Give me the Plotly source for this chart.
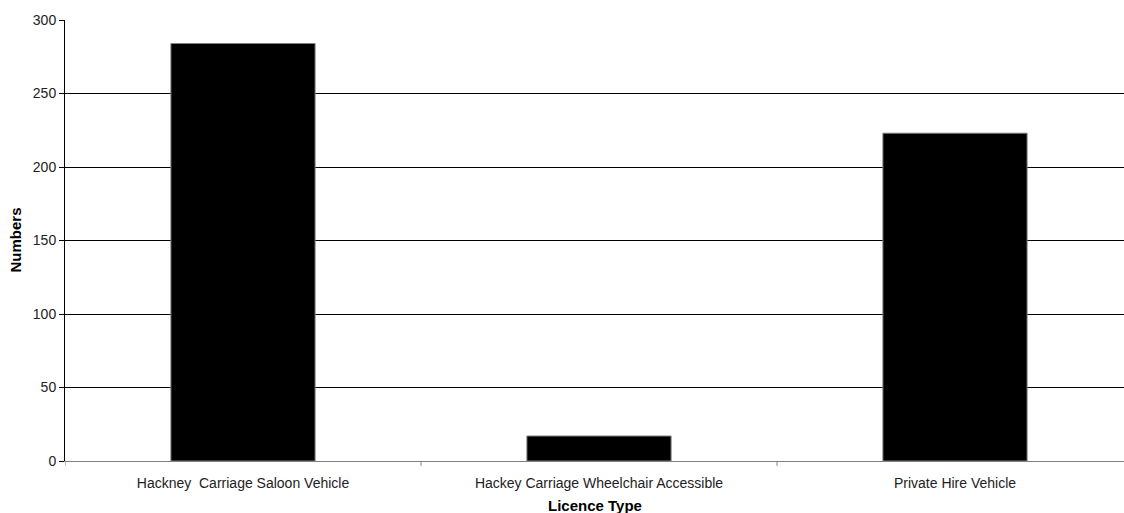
import plotly.graph_objects as go

categories = [
    "Hackney  Carriage Saloon Vehicle",
    "Hackey Carriage Wheelchair Accessible",
    "Private Hire Vehicle",
]
numbers = [284, 17, 223]
y_ticks = [0, 50, 100, 150, 200, 250, 300]

FONT = "Liberation Sans, Arial, sans-serif"

fig = go.Figure(
    go.Bar(
        x=list(range(len(categories))),
        y=numbers,
        width=0.405,
        marker=dict(color="#000000", line=dict(color="#808080", width=1)),
    )
)

fig.update_layout(
    width=1124,
    height=513,
    margin=dict(l=65, r=0, t=20, b=52),
    paper_bgcolor="white",
    plot_bgcolor="white",
    showlegend=False,
    font=dict(family=FONT, size=14, color="#000000"),
)

fig.update_xaxes(
    range=[-0.5, -0.5 + 1059 / 356],
    tickmode="array",
    tickvals=list(range(len(categories))),
    ticktext=categories,
    showgrid=False,
    showline=True,
    linecolor="#808080",
    linewidth=1,
    ticks="",
    ticklabelstandoff=9,
    zeroline=False,
    tickfont=dict(size=14, family=FONT, color="#222222"),
)

# category boundary tick marks along the x axis
for b in [-0.5, 0.5, 1.5]:
    fig.add_shape(
        type="line", xref="x", yref="paper",
        x0=b, x1=b, y0=0, y1=-0.011,
        line=dict(color="#808080", width=1),
    )

fig.update_yaxes(
    range=[0, 300],
    tickmode="array",
    tickvals=y_ticks,
    showgrid=True,
    gridcolor="#000000",
    gridwidth=1,
    showline=True,
    linecolor="#000000",
    linewidth=1,
    ticks="outside",
    ticklen=5,
    tickcolor="#000000",
    zeroline=False,
    tickfont=dict(size=14, family=FONT, color="#222222"),
)

fig.add_annotation(
    text="<b>Licence Type</b>", xref="paper", yref="paper",
    x=0.5, y=-0.102, xanchor="center", yanchor="middle", showarrow=False,
    font=dict(size=15, family=FONT, color="#000000"),
)
fig.add_annotation(
    text="<b>Numbers</b>", xref="paper", yref="paper",
    x=-0.0472, y=0.5, xanchor="center", yanchor="middle",
    textangle=-90, showarrow=False,
    font=dict(size=15, family=FONT, color="#000000"),
)

fig.write_html("out.html")
